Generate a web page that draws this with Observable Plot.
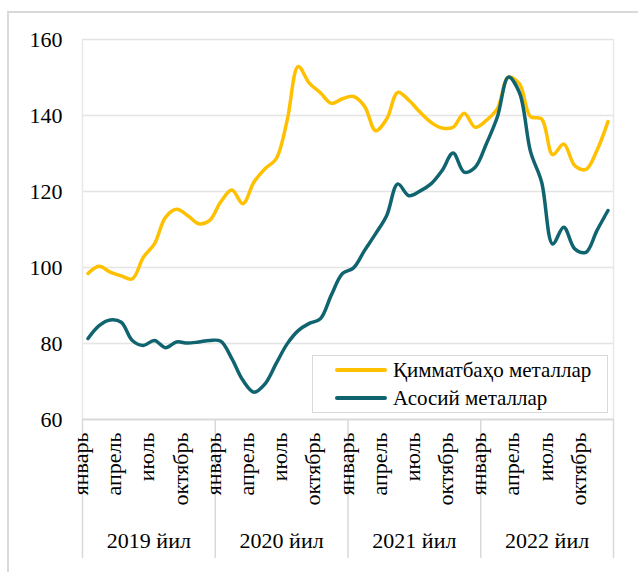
<!DOCTYPE html>
<html>
<head>
<meta charset="utf-8">
<script src="https://cdn.jsdelivr.net/npm/d3@7"></script>
<script src="https://cdn.jsdelivr.net/npm/@observablehq/plot@0.6"></script>
<style>
  @font-face {
    font-family: "ChartSerif";
    src: local("Liberation Serif"), local("LiberationSerif"), local("LiberationSerif-Regular"),
         local("Times New Roman"), local("TimesNewRomanPSMT"),
         local("DejaVu Serif"), local("DejaVuSerif"),
         local("Noto Serif"), local("NotoSerif-Regular"), local("Tinos"), local("Tinos-Regular");
  }
  html, body { margin: 0; padding: 0; background: #fff; }
  #wrap { position: relative; width: 638px; height: 572px; overflow: hidden; font-family: 'Liberation Serif', ChartSerif, 'Times New Roman', 'DejaVu Serif', serif; }
  #border { position: absolute; left: 7px; top: 11px; width: 700px; height: 700px; border-left: 2px solid #d9d9d9; border-top: 2px solid #d9d9d9; box-sizing: border-box; }
  #chart { position: absolute; left: 0; top: 0; }
  #legend { position: absolute; left: 312px; top: 355px; width: 296px; height: 58px; border: 1.5px solid #d9d9d9; background: #fff; box-sizing: border-box; }
  .item { position: absolute; left: 0; height: 26px; display: flex; align-items: center; font-size: 21px; color: #000; white-space: nowrap; }
  .swatch { display: inline-block; width: 52px; height: 4px; border-radius: 2px; margin-left: 22px; margin-right: 6px; }
  #chart svg text { font-family: 'Liberation Serif', ChartSerif, 'Times New Roman', 'DejaVu Serif', serif; }
</style>
</head>
<body>
<div id="wrap">
  <div id="border"></div>
  <div id="chart"></div>
  <div id="legend"></div>
</div>
<script>
const years = ["2019 йил", "2020 йил", "2021 йил", "2022 йил"];
const months = ["январь", "февраль", "март", "апрель", "май", "июнь", "июль", "август", "сентябрь", "октябрь", "ноябрь", "декабрь"];
const tickMonths = ["январь", "апрель", "июль", "октябрь"];
const seriesNames = ["Қимматбаҳо металлар", "Асосий металлар"];
const seriesColors = ["#FFC000", "#106470"];
const yTicks = [60, 80, 100, 120, 140, 160];

// Precious metals index (monthly, Jan 2019 – Dec 2022)
const preciousMetals = [
  98.4, 100.3, 98.8, 97.8, 97.0, 102.7, 106.2, 113.2, 115.3, 113.7, 111.5, 112.4,
  117.3, 120.4, 116.8, 122.5, 126.0, 128.6, 138.7, 152.9, 148.5, 146.0, 143.2, 144.4,
  145.0, 142.4, 136.0, 139.1, 146.1, 144.0, 140.9, 138.2, 136.7, 136.9, 140.6, 136.9,
  138.7, 141.8, 150.1, 148.3, 139.7, 139.1, 129.7, 132.5, 126.8, 125.8, 130.8, 138.4
];
// Base metals index
const baseMetals = [
  81.3, 84.7, 86.2, 85.6, 80.8, 79.5, 80.8, 78.9, 80.4, 80.1, 80.4, 80.8,
  80.6, 76.0, 70.3, 67.2, 69.4, 74.7, 79.9, 83.4, 85.3, 86.5, 92.8, 98.4,
  99.9, 104.5, 108.9, 113.7, 122.0, 118.9, 120.1, 122.0, 125.5, 130.1, 125.1, 126.4,
  132.5, 139.6, 150.1, 146.0, 130.5, 122.5, 106.2, 110.6, 104.9, 104.0, 109.7, 115.0
];

const rows = [];
years.forEach((yr, yi) => months.forEach((m, mi) => {
  const i = yi * 12 + mi;
  rows.push({pos: i + 0.5, year: yr, month: m, series: seriesNames[0], value: preciousMetals[i]});
}));
years.forEach((yr, yi) => months.forEach((m, mi) => {
  const i = yi * 12 + mi;
  rows.push({pos: i + 0.5, year: yr, month: m, series: seriesNames[1], value: baseMetals[i]});
}));

const monthTicks = [];
years.forEach((yr, yi) => months.forEach((m, mi) => {
  if (tickMonths.includes(m)) monthTicks.push({pos: yi * 12 + mi + 0.5, label: m});
}));
const yearLabels = years.map((yr, yi) => ({pos: yi * 12 + 6, label: yr}));
const yearBounds = d3.range(years.length + 1).map(k => k * 12);

const fontStack = "'Liberation Serif', ChartSerif, 'Times New Roman', 'DejaVu Serif', serif";

const chart = Plot.plot({
  width: 638,
  height: 572,
  marginLeft: 82,
  marginRight: 25,
  marginTop: 39,
  marginBottom: 153,
  style: {fontFamily: fontStack, fontSize: "22px", color: "#000", background: "transparent", overflow: "visible"},
  x: {type: "linear", domain: [0, years.length * 12], axis: null},
  y: {domain: [60, 160], ticks: yTicks},
  color: {domain: seriesNames, range: seriesColors},
  marks: [
    Plot.gridY(yTicks.filter(t => t > 60), {stroke: "#e4e4e4", strokeOpacity: 1, strokeWidth: 1.5}),
    Plot.ruleX([0, years.length * 12], {stroke: "#e8e8e8", strokeWidth: 1.5}),
    Plot.ruleY([60], {stroke: "#d9d9d9", strokeWidth: 2}),
    Plot.ruleX(yearBounds, {stroke: "#d9d9d9", strokeWidth: 1.5, insetTop: 380, insetBottom: -139}),
    Plot.axisY(yTicks, {tickSize: 0, tickPadding: 20, fontSize: 22, fill: "#000", label: null}),
    Plot.line(rows, {x: "pos", y: "value", z: "series", stroke: "series", strokeWidth: 3.5, curve: "catmull-rom", strokeLinecap: "round", strokeLinejoin: "round"}),
    Plot.text(monthTicks, {x: "pos", text: "label", frameAnchor: "bottom", dy: 13, rotate: -90, textAnchor: "end", fontSize: 22, fill: "#000"}),
    Plot.text(yearLabels, {x: "pos", text: "label", frameAnchor: "bottom", dy: 128, fontSize: 22, fill: "#000"})
  ]
});
document.getElementById("chart").appendChild(chart);

const legend = document.getElementById("legend");
seriesNames.forEach((name, k) => {
  const item = document.createElement("div");
  item.className = "item";
  item.style.top = (1 + k * 28) + "px";
  const sw = document.createElement("span");
  sw.className = "swatch";
  sw.style.background = seriesColors[k];
  const label = document.createElement("span");
  label.textContent = name;
  item.appendChild(sw);
  item.appendChild(label);
  legend.appendChild(item);
});
</script>
</body>
</html>
